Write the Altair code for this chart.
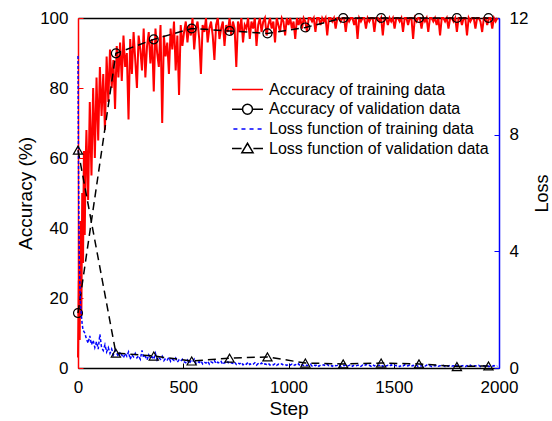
import altair as alt
import pandas as pd

FONT = "Liberation Sans"

# ---------------- data ----------------
# Training accuracy (%) : first steps (fine), then every 8 steps from step 40
acc_head_steps = [0, 4, 8, 12, 16, 20, 24, 28, 32, 36]
acc_head = [3, 25, 8, 42, 15, 50, 30, 62, 38, 58]
acc_tail_start = 40
acc_tail_every = 8
acc_tail = [
    # 40 .. 192
    68, 48, 76, 55, 80, 60, 83, 65, 86, 72, 84, 68, 89, 76, 91, 80, 88, 74, 92, 83,
    # 200 .. 496
    93, 82, 95, 86, 90, 71, 94, 84, 96, 88, 80, 95, 91, 85, 97, 83, 92, 96, 87, 94,
    79, 97, 90, 86, 98, 70, 95, 89, 93, 84, 97, 91, 99, 85, 95, 78, 98, 92,
    # 504 .. 1096
    96, 99, 93, 98, 95, 100, 91, 97, 99, 94,
    84, 98, 96, 100, 93, 97, 99, 95, 88, 98,
    100, 94, 97, 99, 92, 98, 96, 100, 95, 99,
    97, 86, 99, 96, 100, 93, 98, 97, 100, 94,
    99, 97, 100, 92, 98, 100, 96, 99, 100, 95,
    98, 100, 97, 99, 93, 100, 98, 96, 100, 99,
    95, 100, 98, 100, 97, 99, 94, 100, 98, 100,
    97, 100, 99, 96, 100,
    # 1104 .. 1992
    100, 99, 100, 96, 100, 100, 98, 100, 99, 100,
    95, 100, 100, 99, 100, 97, 100, 100, 99, 100,
    100, 96, 100, 99, 100, 100, 98, 100, 94, 100,
    99, 100, 100, 97, 100, 99, 100, 100, 96, 100,
    100, 99, 100, 95, 100, 100, 98, 100, 99, 100,
    97, 100, 100, 99, 100, 96, 100, 100, 98, 100,
    100, 94, 100, 99, 100, 100, 97, 100, 99, 100,
    96, 100, 100, 99, 100, 98, 100, 95, 100, 100,
    99, 100, 97, 100, 100, 99, 100, 96, 100, 100,
    98, 100, 100, 95, 100, 99, 100, 100, 97, 100,
    100, 99, 96, 100, 100, 98, 100, 100, 97, 100,
    99, 100,
]

# Training loss : first steps (fine), then every 8 steps from step 32
loss_head_steps = [0, 2, 4, 6, 8, 10, 12, 16, 20, 24]
loss_head = [10.7, 7.5, 5.2, 3.8, 3.0, 2.6, 2.2, 1.8, 1.5, 1.3]
loss_tail_start = 32
loss_tail_every = 8
loss_tail = [
    # 32 .. 200
    1.2, 1.0, 0.85, 1.1, 0.8, 0.95, 0.7, 0.9, 0.65, 1.15, 0.7, 0.6, 0.8, 0.55, 0.7,
    0.5, 0.65, 0.45, 0.6, 0.5, 0.4, 0.55,
    # 208 .. 496
    0.45, 0.35, 0.5, 0.4, 0.55, 0.3, 0.45, 0.38, 0.5, 0.35, 0.42, 0.3, 0.6, 0.35,
    0.4, 0.28, 0.45, 0.33, 0.38, 0.3, 0.5, 0.27, 0.35, 0.3, 0.4, 0.25, 0.33, 0.28,
    0.36, 0.22, 0.3, 0.26, 0.34, 0.2, 0.28, 0.24, 0.3,
    # 504 .. 1000
    0.22, 0.18, 0.27, 0.15, 0.24, 0.2, 0.3, 0.16, 0.22, 0.19, 0.25, 0.14, 0.2, 0.17,
    0.23, 0.13, 0.21, 0.18, 0.26, 0.15, 0.2, 0.16, 0.22, 0.12, 0.19, 0.15, 0.21,
    0.14, 0.18, 0.16, 0.2, 0.12, 0.17, 0.14, 0.19, 0.11, 0.16, 0.13, 0.2, 0.12,
    0.15, 0.13, 0.18, 0.1, 0.15, 0.12, 0.17, 0.11, 0.14, 0.12, 0.16, 0.1, 0.13,
    0.11, 0.15, 0.09, 0.13, 0.11, 0.14, 0.1, 0.12, 0.09, 0.13,
    # 1008 .. 1992
    0.1, 0.13, 0.08, 0.12, 0.09, 0.14, 0.07, 0.11, 0.09, 0.12,
    0.08, 0.1, 0.13, 0.07, 0.11, 0.08, 0.12, 0.06, 0.1, 0.09,
    0.11, 0.07, 0.12, 0.08, 0.1, 0.06, 0.11, 0.08, 0.09, 0.13,
    0.06, 0.1, 0.08, 0.11, 0.07, 0.09, 0.12, 0.06, 0.1, 0.08,
    0.09, 0.11, 0.06, 0.1, 0.07, 0.12, 0.08, 0.09, 0.06, 0.11,
    0.07, 0.1, 0.08, 0.09, 0.12, 0.05, 0.1, 0.07, 0.09, 0.06,
    0.11, 0.07, 0.09, 0.08, 0.1, 0.05, 0.09, 0.07, 0.11, 0.06,
    0.08, 0.1, 0.06, 0.09, 0.07, 0.1, 0.05, 0.08, 0.07, 0.09,
    0.06, 0.1, 0.07, 0.08, 0.05, 0.09, 0.07, 0.1, 0.06, 0.08,
    0.07, 0.09, 0.05, 0.08, 0.06, 0.1, 0.07, 0.08, 0.05, 0.09,
    0.06, 0.08, 0.07, 0.09, 0.05, 0.08, 0.06, 0.1, 0.05, 0.07,
    0.08, 0.06, 0.09, 0.05, 0.07, 0.08, 0.06, 0.09, 0.05, 0.07,
    0.06, 0.08, 0.05, 0.07,
]

# Validation points
val_steps = [0, 180, 360, 540, 720, 900, 1080, 1260, 1440, 1620, 1800, 1950]
val_acc = [15.7, 89.9, 93.9, 97.0, 96.3, 95.6, 97.3, 100, 100, 100, 100, 100]
val_loss = [7.47, 0.51, 0.41, 0.24, 0.34, 0.38, 0.17, 0.14, 0.17, 0.14, 0.05, 0.07]

series_names = [
    "Accuracy of training data",
    "Accuracy of validation data",
    "Loss function of training data",
    "Loss function of validation data",
]
series_colors = ["#ff0000", "#000000", "#0000ff", "#000000"]
legend_shapes = [
    "M-1,0L1,0",
    "M-1,0L-0.36,0M0.36,0L1,0M0.32,0A0.32,0.32,0,1,1,-0.32,0A0.32,0.32,0,1,1,0.32,0Z",
    "M-0.91,0L-0.65,0M-0.39,0L-0.13,0M0.13,0L0.39,0M0.65,0L0.91,0",
    "M-1,0L-0.38,0M0.38,0L1,0M-0.36,0.26L0,-0.34L0.36,0.26Z",
]

x_ticks = [0, 500, 1000, 1500, 2000]
acc_ticks = [0, 20, 40, 60, 80, 100]
loss_ticks = [0, 4, 8, 12]

# ---------------- tables ----------------
acc_steps = acc_head_steps + [acc_tail_start + acc_tail_every * i for i in range(len(acc_tail))]
train_acc_df = pd.DataFrame({"step": acc_steps, "value": acc_head + acc_tail})
loss_steps = loss_head_steps + [loss_tail_start + loss_tail_every * i for i in range(len(loss_tail))]
train_loss_df = pd.DataFrame({"step": loss_steps, "value": loss_head + loss_tail})
val_acc_df = pd.DataFrame({"step": val_steps, "value": val_acc})
val_loss_df = pd.DataFrame({"step": val_steps, "value": val_loss})
legend_df = pd.DataFrame({"series": series_names})

# ---------------- axes / scales ----------------
inward = {"expr": "-5"}
x_scale = alt.Scale(domain=[0, 2000], nice=False, zero=False)
x_axis_bottom = alt.Axis(
    values=x_ticks, orient="bottom", title="Step", grid=False, format="d",
    domainColor="black", domainWidth=1.5, tickColor="black", tickWidth=1,
    tickSize=inward, labelPadding=16, labelFont=FONT, labelFontSize=17,
    labelColor="black", titleFont=FONT, titleFontSize=19, titleFontWeight="normal",
    titleColor="black", titlePadding=4, labelFlush=False,
)
x_axis_top = alt.Axis(
    orient="top", title=None, labels=False, ticks=False, grid=False,
    domainColor="black", domainWidth=1.5,
)
acc_scale = alt.Scale(domain=[0, 100], nice=False)
acc_axis = alt.Axis(
    values=acc_ticks, orient="left", title="Accuracy (%)", grid=False,
    domainColor="#ff0000", domainWidth=1.5, tickColor="#ff0000", tickWidth=1,
    tickSize=inward, labelPadding=15, labelFont=FONT, labelFontSize=17,
    labelColor="black", titleFont=FONT, titleFontSize=19, titleFontWeight="normal",
    titleColor="black", titlePadding=4,
)
loss_scale = alt.Scale(domain=[0, 12], nice=False)
loss_axis = alt.Axis(
    values=loss_ticks, orient="right", title="Loss", grid=False,
    domainColor="#0000ff", domainWidth=1.5, tickColor="#0000ff", tickWidth=1,
    tickSize=inward, labelPadding=15, labelFont=FONT, labelFontSize=17,
    labelColor="black", titleFont=FONT, titleFontSize=18, titleFontWeight="normal",
    titleColor="black", titlePadding=6, titleAngle=270, titleBaseline="top",
)

xb = alt.X("step:Q", scale=x_scale, axis=x_axis_bottom)
xt = alt.X("step:Q", scale=x_scale, axis=x_axis_top)
y_acc = alt.Y("value:Q", scale=acc_scale, axis=acc_axis)
y_loss = alt.Y("value:Q", scale=loss_scale, axis=loss_axis)

legend = alt.Legend(
    orient="none", legendX=153, legendY=62, title=None, padding=0,
    labelFont=FONT, labelFontSize=16, labelColor="black", labelOffset=5,
    labelLimit=0,
    symbolSize=961, symbolStrokeWidth=1.5, symbolOpacity=1,
    symbolFillColor="transparent", clipHeight=19, rowPadding=0.7,
)

# ---------------- accuracy group ----------------
train_acc = alt.Chart(train_acc_df).mark_line(
    color="#ff0000", strokeWidth=2.0
).encode(x=xb, y=y_acc)
val_acc_line = alt.Chart(val_acc_df).mark_line(
    color="black", strokeWidth=1.5, strokeDash=[8, 5]
).encode(x=xb, y=y_acc)
val_acc_pts = alt.Chart(val_acc_df).mark_point(
    shape="circle", size=80, filled=False, color="black", strokeWidth=1.2, opacity=1
).encode(x=xb, y=y_acc)
legend_layer = alt.Chart(legend_df).mark_point(
    filled=False, opacity=0, strokeWidth=1.5
).encode(
    color=alt.Color("series:N", scale=alt.Scale(domain=series_names, range=series_colors), legend=legend),
    shape=alt.Shape("series:N", scale=alt.Scale(domain=series_names, range=legend_shapes), legend=legend),
)
acc_group = alt.layer(train_acc, val_acc_line, val_acc_pts, legend_layer)

# ---------------- loss group ----------------
train_loss = alt.Chart(train_loss_df).mark_line(
    color="#0000ff", strokeWidth=1.5, strokeDash=[3, 2]
).encode(x=xt, y=y_loss)
val_loss_line = alt.Chart(val_loss_df).mark_line(
    color="black", strokeWidth=1.5, strokeDash=[8, 5]
).encode(x=xt, y=y_loss)
val_loss_pts = alt.Chart(val_loss_df).mark_point(
    shape="triangle-up", size=85, filled=False, color="black", strokeWidth=1.2, opacity=1
).encode(x=xt, y=y_loss)
loss_group = alt.layer(train_loss, val_loss_line, val_loss_pts)

chart = (
    alt.layer(acc_group, loss_group)
    .resolve_scale(y="independent")
    .resolve_axis(x="independent", y="independent")
    .properties(
        width=421, height=350,
        autosize=alt.AutoSizeParams(type="none"),
        padding={"left": 78, "top": 18, "right": 53, "bottom": 53},
        background="white",
    )
    .configure_view(stroke=None)
)

chart.save("out.html", embed_options={"renderer": "svg", "actions": False})
